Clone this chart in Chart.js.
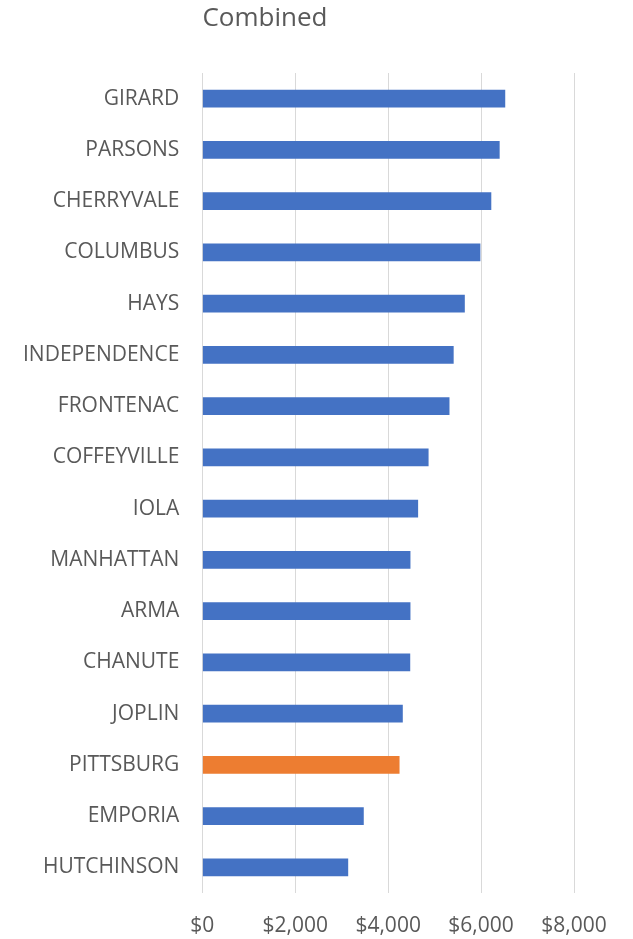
<!DOCTYPE html>
<html>
<head>
<meta charset="utf-8">
<script src="https://cdn.jsdelivr.net/npm/chart.js@4.4.1/dist/chart.umd.min.js"></script>
<style>
    html, body { margin: 0; padding: 0; background: #fff; }
    #wrap { width: 633px; height: 939px; }
</style>
</head>
<body>
<div id="wrap"><canvas id="myChart" width="633" height="939"></canvas></div>
<script>
// data, top to bottom
const cities = ['GIRARD', 'PARSONS', 'CHERRYVALE', 'COLUMBUS', 'HAYS', 'INDEPENDENCE', 'FRONTENAC',
    'COFFEYVILLE', 'IOLA', 'MANHATTAN', 'ARMA', 'CHANUTE', 'JOPLIN', 'PITTSBURG', 'EMPORIA', 'HUTCHINSON'];
const combined = [6520, 6400, 6220, 5985, 5650, 5410, 5320, 4870, 4645, 4480, 4480, 4475, 4315, 4245, 3475, 3140];
const xTicks = [0, 2000, 4000, 6000, 8000];
const highlight = 'PITTSBURG';
const chartTitle = 'Combined';

const textColor = '#595959';
const fontFamily = '"Open Sans", "Noto Sans", sans-serif';

const barColors = cities.map(c => c === highlight ? '#ED7D31' : '#4472C4');

// title sits a little left of centre, like in the Excel original
const titlePlugin = {
    id: 'excelTitle',
    afterDraw(chart) {
        const c = chart.ctx;
        c.save();
        c.fillStyle = textColor;
        c.font = '26px ' + fontFamily;
        c.textAlign = 'center';
        c.textBaseline = 'middle';
        c.fillText(chartTitle, 265, 19);
        c.restore();
    }
};

const ctx = document.getElementById('myChart').getContext('2d');
const myChart = new Chart(ctx, {
    type: 'bar',
    data: {
        labels: cities,
        datasets: [{
            label: chartTitle,
            data: combined,
            backgroundColor: barColors,
            borderWidth: 0,
            barPercentage: 0.7,
            categoryPercentage: 0.5
        }]
    },
    options: {
        indexAxis: 'y',
        responsive: false,
        animation: false,
        layout: {
            padding: { left: 0, right: 59, top: 73, bottom: 0 }
        },
        plugins: {
            legend: { display: false },
            tooltip: { enabled: false },
            title: { display: false }
        },
        scales: {
            x: {
                min: 0,
                max: 8000,
                afterBuildTicks: axis => {
                    axis.ticks = xTicks.map(v => ({ value: v }));
                },
                afterFit: axis => { axis.height = 46; },
                grid: { color: '#d9d9d9', lineWidth: 1, drawTicks: false },
                border: { display: false },
                ticks: {
                    color: textColor,
                    padding: 20,
                    maxRotation: 0,
                    font: { family: fontFamily, size: 21 },
                    callback: v => '$' + v.toLocaleString('en-US')
                }
            },
            y: {
                grid: { display: false, drawTicks: false },
                border: { display: false },
                ticks: {
                    color: textColor,
                    padding: 23,
                    font: { family: fontFamily, size: 21 }
                }
            }
        }
    },
    plugins: [titlePlugin]
});
</script>
</body>
</html>
